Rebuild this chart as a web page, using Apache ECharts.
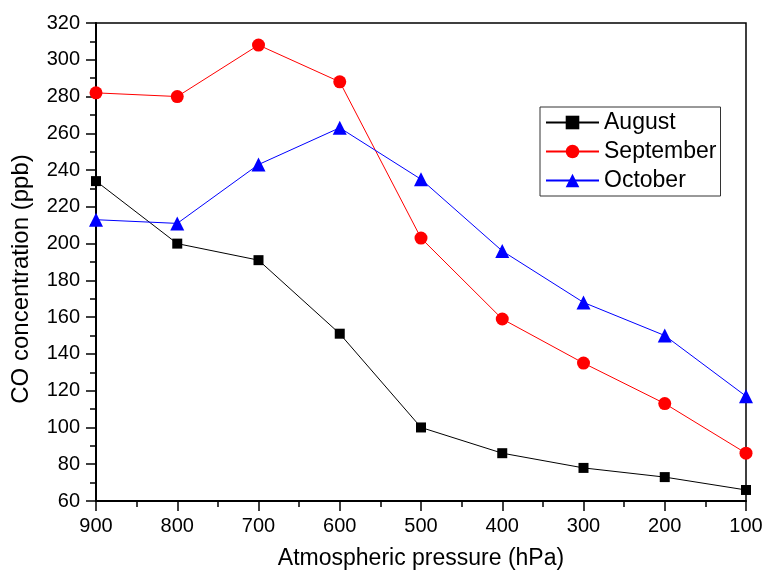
<!DOCTYPE html>
<html>
<head>
<meta charset="utf-8">
<script src="https://cdn.jsdelivr.net/npm/echarts@6/dist/echarts.min.js"></script>
<style>html,body{margin:0;padding:0;background:#fff;}#c{width:763px;height:573px;}</style>
</head>
<body>
<div id="c"></div>
<script>
var pressure = [900, 800, 700, 600, 500, 400, 300, 200, 100];
var august = [234, 200, 191, 151, 100, 86, 78, 73, 66];
var september = [282, 280, 308, 288, 203, 159, 135, 113, 86];
var october = [213, 211, 243, 263, 235, 196, 168, 150, 117];

function pairs(vals) { return pressure.map(function (p, i) { return [p, vals[i]]; }); }

var font = 'Liberation Sans, Arial, sans-serif';
var chart = echarts.init(document.getElementById('c'));
chart.setOption({
  animation: false,
  backgroundColor: '#fff',
  grid: { left: 96, right: 17, top: 23, bottom: 72, outerBoundsMode: 'none', containLabel: false,
          show: true, borderColor: '#000', borderWidth: 1.5, backgroundColor: 'transparent' },
  legend: {
    orient: 'vertical', left: 540, top: 107, itemWidth: 53, itemHeight: 17, itemGap: 6,
    padding: [4, 4, 4, 5], borderColor: '#333', borderWidth: 1,
    textStyle: { fontFamily: font, fontSize: 23, color: '#000', padding: [0, 0, 0, 0] },
    data: ['August', 'September', 'October']
  },
  xAxis: {
    type: 'value', inverse: true, min: 100, max: 900, interval: 100,
    name: 'Atmospheric pressure (hPa)', nameLocation: 'middle', nameGap: 46,
    nameTextStyle: { fontFamily: font, fontSize: 23, color: '#000' },
    axisLine: { onZero: false, lineStyle: { color: '#000', width: 2 } },
    axisTick: { show: true, inside: false, length: 10, lineStyle: { color: '#000', width: 1.5 } },
    minorTick: { show: true, splitNumber: 2, length: 6, lineStyle: { color: '#000', width: 1.5 } },
    axisLabel: { fontFamily: font, fontSize: 20, color: '#000', margin: 15 },
    splitLine: { show: false }
  },
  yAxis: {
    type: 'value', min: 60, max: 320, interval: 20,
    name: 'CO concentration (ppb)', nameLocation: 'middle', nameGap: 63,
    nameTextStyle: { fontFamily: font, fontSize: 24, color: '#000', padding: [0, 34, 0, 0] },
    axisLine: { onZero: false, lineStyle: { color: '#000', width: 2 } },
    axisTick: { show: true, inside: false, length: 10, lineStyle: { color: '#000', width: 1.5 } },
    minorTick: { show: true, splitNumber: 2, length: 6, lineStyle: { color: '#000', width: 1.5 } },
    axisLabel: { fontFamily: font, fontSize: 20, color: '#000', margin: 16 },
    splitLine: { show: false }
  },
  series: [
    { name: 'August', type: 'line', data: pairs(august), symbol: 'rect', symbolSize: 10,
      lineStyle: { color: '#000', width: 1 }, itemStyle: { color: '#000' } },
    { name: 'September', type: 'line', data: pairs(september), symbol: 'circle', symbolSize: 13,
      lineStyle: { color: '#ff0000', width: 1 }, itemStyle: { color: '#ff0000' } },
    { name: 'October', type: 'line', data: pairs(october), symbol: 'triangle', symbolSize: 14,
      lineStyle: { color: '#0000ff', width: 1 }, itemStyle: { color: '#0000ff' } }
  ]
});
</script>
</body>
</html>
